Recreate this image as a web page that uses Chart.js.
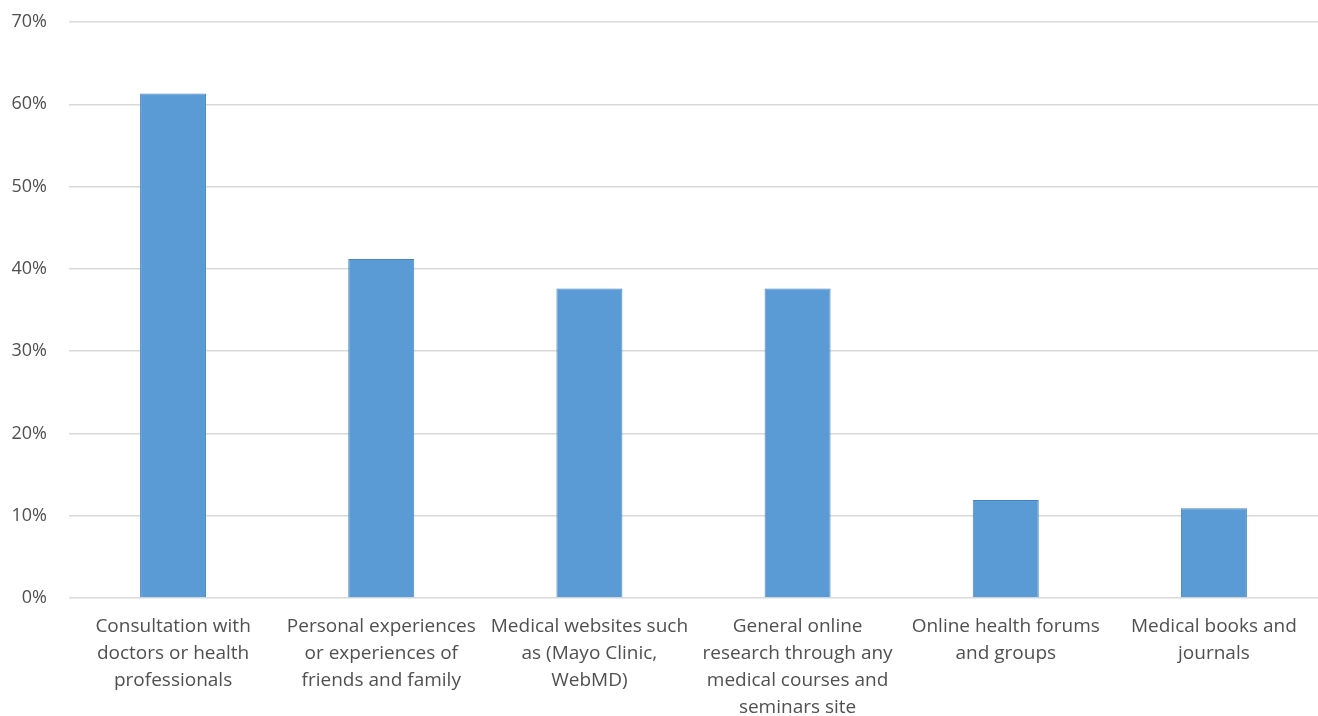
<!DOCTYPE html>
<html>
<head>
<meta charset="utf-8">
<script src="https://cdn.jsdelivr.net/npm/chart.js@4/dist/chart.umd.min.js"></script>
<style>
  html, body { margin: 0; padding: 0; background: #ffffff; }
  #wrap { width: 1318px; height: 716px; position: relative; }
</style>
</head>
<body>
<div id="wrap"><canvas id="chart"></canvas></div>
<script>
// Information sources used by respondents (share of respondents, %)
const categories = [
  ["Consultation with", "doctors or health", "professionals"],
  ["Personal experiences", "or experiences of", "friends and family"],
  ["Medical websites such", "as (Mayo Clinic,", "WebMD)"],
  ["General online", "research through any", "medical courses and", "seminars site"],
  ["Online health forums", "and groups"],
  ["Medical books and", "journals"]
];
const shares = [61.3, 41.2, 37.6, 37.6, 11.9, 10.9];
const yTicks = [0, 10, 20, 30, 40, 50, 60, 70];

const fontFamily = "'Open Sans', sans-serif";
const textColor = '#505050';

new Chart(document.getElementById('chart'), {
  type: 'bar',
  data: {
    labels: categories,
    datasets: [{
      data: shares,
      backgroundColor: '#5b9bd5',
      borderColor: '#4684c4',
      borderWidth: 1,
      categoryPercentage: 1,
      barPercentage: 0.317
    }]
  },
  options: {
    responsive: true,
    maintainAspectRatio: false,
    animation: false,
    layout: { padding: { top: 0, right: 0, bottom: 0, left: 0 } },
    plugins: { legend: { display: false }, tooltip: { enabled: false } },
    scales: {
      x: {
        grid: { display: false, drawTicks: false },
        border: { display: false },
        ticks: {
          color: textColor, font: { family: fontFamily, size: 19, lineHeight: 27 / 19 },
          maxRotation: 0, autoSkip: false, padding: 15
        },
        afterFit: (s) => { s.height = 118; }
      },
      y: {
        min: 0, max: 70,
        afterBuildTicks: (s) => { s.ticks = yTicks.map(v => ({ value: v })); },
        grid: { color: '#d9d9d9', lineWidth: 1.5, drawTicks: false },
        border: { display: false },
        ticks: {
          color: textColor, font: { family: fontFamily, size: 18 }, padding: 22,
          callback: (v) => v + '%'
        },
        afterFit: (s) => { s.width = 69; s.paddingTop = 22; }
      }
    }
  }
});
</script>
</body>
</html>
